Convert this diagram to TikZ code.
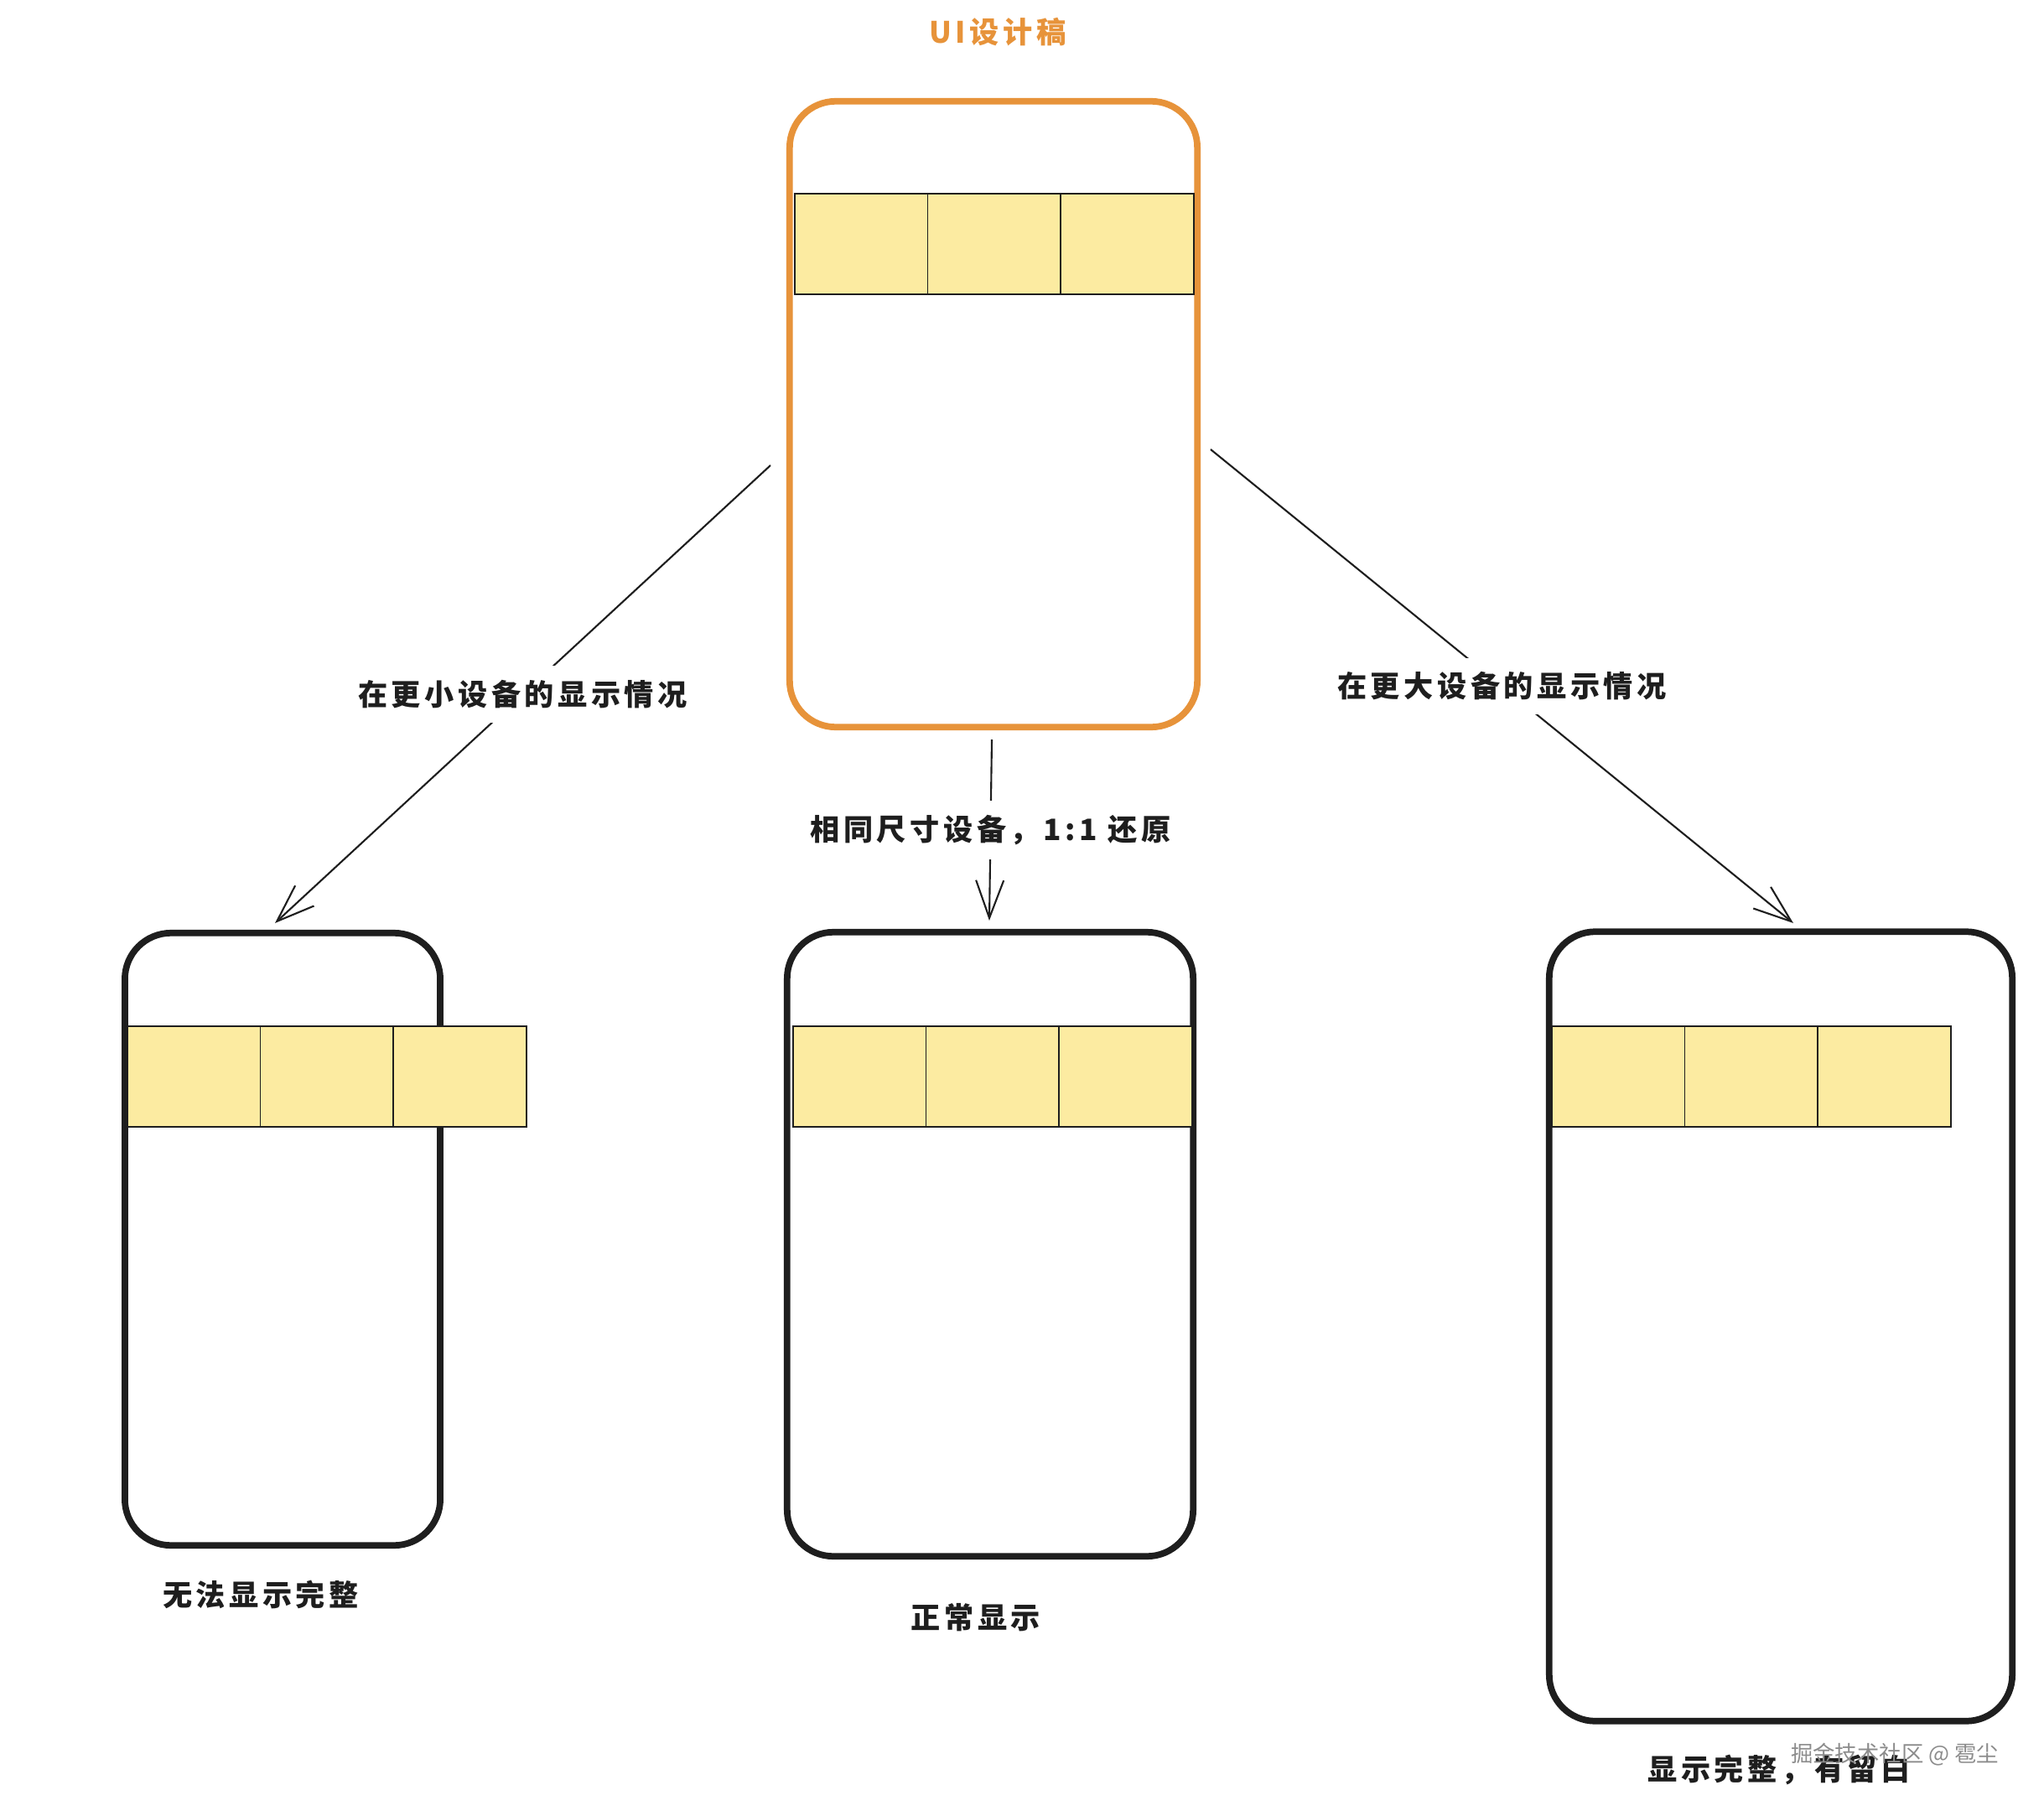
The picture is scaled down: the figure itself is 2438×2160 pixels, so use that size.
\documentclass[tikz,border=0pt]{standalone}
\usepackage{fontspec}
\usepackage{xcolor}
\usepackage{tikz}
\usetikzlibrary{arrows.meta}
\newfontfamily\cjk{Noto Sans CJK SC}[LetterSpace=13]
\newfontfamily\cjkplain{Noto Sans CJK SC}
\definecolor{uiorange}{HTML}{E7933A}
\definecolor{ink}{HTML}{1E1E1E}
\definecolor{note}{HTML}{FCEBA1}

\begin{document}
\begin{tikzpicture}[x=0.01cm,y=-0.01cm,
  phone/.style={draw=ink,line width=2.2pt,rounded corners=5.5mm,inner sep=0pt},
  cell/.style={draw=ink,fill=note,line width=0.45pt,anchor=north west,minimum width=1.587cm,minimum height=1.2cm,inner sep=0pt},
  link/.style={draw=ink,line width=0.6pt,-{Straight Barb[length=4.5mm,width=3.3mm]}},
  tag/.style={font=\cjk\bfseries\fontsize{10}{12}\selectfont,text=ink,fill=white,inner sep=1.7mm},
  caption/.style={font=\cjk\bfseries\fontsize{10}{12}\selectfont,text=ink}]
\path[fill=white,use as bounding box] (0,0) rectangle (2438,2160);

% design draft
\node[font=\cjk\bfseries\fontsize{10}{12}\selectfont,text=uiorange] (title) at (1190,38) {UI设计稿};
\node[phone,draw=uiorange,minimum width=4.86cm,minimum height=7.46cm] (ui) at (1185,494) {};

% devices
\node[phone,minimum width=3.76cm,minimum height=7.30cm] (small) at (337,1478) {};
\node[phone,minimum width=4.84cm,minimum height=7.44cm] (same) at (1181,1484) {};
\node[phone,minimum width=5.52cm,minimum height=9.41cm] (large) at (2124,1582) {};

% content strips
\foreach \name/\sx/\sy in {ui/947/230,small/151/1223,same/945/1223,large/1850/1223}
  \foreach \i in {0,1,2}
    \node[cell] (\name-\i) at (\sx+\i*158.7,\sy) {};

% arrows
\coordinate (ls) at (919,555);
\coordinate (le) at (328,1101);
\coordinate (ms) at (1183,882);
\coordinate (me) at (1180,1098);
\coordinate (rs) at (1444,536);
\coordinate (re) at (2139,1101);
\draw[link] (ls) -- node[tag] (lt) {在更小设备的显示情况} (le);
\draw[link] (ms) -- node[tag] (mt) {相同尺寸设备，1:1 还原} (me);
\draw[link] (rs) -- node[tag] (rt) {在更大设备的显示情况} (re);

% captions
\node[caption] (sc) at (311,1902) {无法显示完整};
\node[caption] (mc) at (1164,1929) {正常显示};
\node[caption] (lc) at (2122,2111) {显示完整，有留白};
\node[font=\cjkplain\fontsize{7.5}{9}\selectfont,text=black!45] (mark) at (2260,2093) {掘金技术社区 @ 雹尘};
\end{tikzpicture}
\end{document}
